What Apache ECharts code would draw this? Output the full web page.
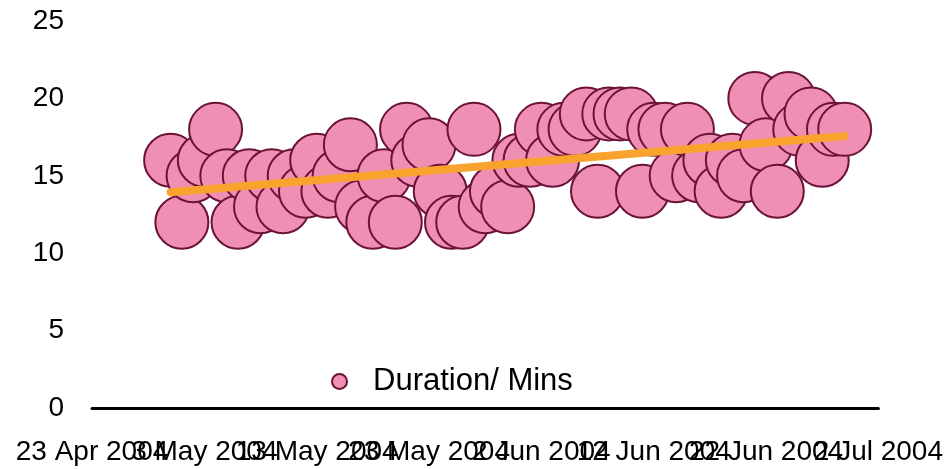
<!DOCTYPE html>
<html>
<head>
<meta charset="utf-8">
<script src="https://cdn.jsdelivr.net/npm/echarts@6/dist/echarts.min.js"></script>
<style>
  html, body { margin: 0; padding: 0; background: #fff; }
  #chart { width: 946px; height: 469px; }
</style>
</head>
<body>
<div id="chart"></div>
<script>
// daily readings, 30 Apr - 29 Jun 2004
const dates = [
  '2004-04-30', '2004-05-01', '2004-05-02', '2004-05-03', '2004-05-04', '2004-05-05',
  '2004-05-06', '2004-05-07', '2004-05-08', '2004-05-09', '2004-05-10', '2004-05-11',
  '2004-05-12', '2004-05-13', '2004-05-14', '2004-05-15', '2004-05-16', '2004-05-17',
  '2004-05-18', '2004-05-19', '2004-05-20', '2004-05-21', '2004-05-22', '2004-05-23',
  '2004-05-24', '2004-05-25', '2004-05-26', '2004-05-27', '2004-05-28', '2004-05-29',
  '2004-05-30', '2004-05-31', '2004-06-01', '2004-06-02', '2004-06-03', '2004-06-04',
  '2004-06-05', '2004-06-06', '2004-06-07', '2004-06-08', '2004-06-09', '2004-06-10',
  '2004-06-11', '2004-06-12', '2004-06-13', '2004-06-14', '2004-06-15', '2004-06-16',
  '2004-06-17', '2004-06-18', '2004-06-19', '2004-06-20', '2004-06-21', '2004-06-22',
  '2004-06-23', '2004-06-24', '2004-06-25', '2004-06-26', '2004-06-27', '2004-06-28',
  '2004-06-29'
]
const durations = [
  16, 12, 15, 16, 18, 15, 12, 15, 13, 15, 13, 15,
  14, 16, 14, 15, 17, 13, 12, 15, 12, 18, 16, 17,
  14, 12, 12, 18, 13, 14, 13, 16, 16, 18, 16, 18,
  18, 19, 14, 19, 19, 19, 14, 18, 18, 15, 18, 15,
  16, 14, 16, 15, 20, 17, 14, 20, 18, 19, 16, 18,
  18
]
const seriesName = 'Duration/ Mins'
const axisStart = '2004-04-23'
const axisEnd = '2004-07-02'
const xTickDates = ['2004-04-23', '2004-05-03', '2004-05-13', '2004-05-23', '2004-06-02', '2004-06-12', '2004-06-22', '2004-07-02']
const xTickLabels = ['23 Apr 2004', '3 May 2004', '13 May 2004', '23 May 2004', '2 Jun 2004', '12 Jun 2004', '22 Jun 2004', '2 Jul 2004']
const yTicks = [0, 5, 10, 15, 20, 25]

const DAY = 86400000
const toDay = (s) => Math.round((Date.parse(s) - Date.parse(axisStart)) / DAY)

// one category per calendar day so the axis keeps a true time scale
const dayCount = toDay(axisEnd) + 1
const dayCats = Array.from({ length: dayCount }, (_, i) => String(i))
const tickDays = xTickDates.map(toDay)

const points = dates.map((s, i) => [toDay(s), durations[i]])

// least squares trend line over the points
function trend (pts) {
  const n = pts.length
  let sx = 0, sy = 0, sxx = 0, sxy = 0
  pts.forEach(([x, y]) => { sx += x; sy += y; sxx += x * x; sxy += x * y })
  const b = (n * sxy - sx * sy) / (n * sxx - sx * sx)
  const a = (sy - b * sx) / n
  const x0 = pts[0][0]
  const x1 = pts[n - 1][0]
  return [[x0, a + b * x0], [x1, a + b * x1]]
}

const font = 'Liberation Sans, Arial, sans-serif'
const myChart = echarts.init(document.getElementById('chart'))
myChart.setOption({
  animation: false,
  textStyle: { fontFamily: font },
  grid: { left: 92, right: 66, top: 21, bottom: 61 },
  legend: {
    data: [seriesName],
    left: 331,
    top: 366,
    padding: 0,
    icon: 'circle',
    itemWidth: 15,
    itemHeight: 15,
    textStyle: { fontSize: 31, color: '#000', fontFamily: font, padding: [0, 0, 0, 21] }
  },
  xAxis: {
    type: 'category',
    data: dayCats,
    boundaryGap: false,
    axisLine: { show: true, lineStyle: { color: '#000', width: 3 } },
    axisTick: { show: false },
    splitLine: { show: false },
    axisLabel: {
      interval: 0,
      formatter: (v) => {
        const k = tickDays.indexOf(Number(v))
        return k < 0 ? '' : xTickLabels[k]
      },
      fontSize: 28,
      color: '#000',
      margin: 30,
      hideOverlap: false
    }
  },
  yAxis: {
    type: 'value',
    min: yTicks[0],
    max: yTicks[yTicks.length - 1],
    interval: 5,
    axisLine: { show: false },
    axisTick: { show: false },
    splitLine: { show: false },
    axisLabel: { fontSize: 28, color: '#000', margin: 28 }
  },
  series: [
    {
      name: seriesName,
      type: 'scatter',
      symbolSize: 53,
      data: points,
      itemStyle: { color: '#EE8FB3', borderColor: '#6B1238', borderWidth: 2, opacity: 1 }
    },
    {
      name: 'trend',
      type: 'line',
      data: trend(points),
      showSymbol: false,
      symbol: 'none',
      z: 5,
      lineStyle: { color: '#F9A22E', width: 8, cap: 'round' }
    }
  ]
})
</script>
</body>
</html>
